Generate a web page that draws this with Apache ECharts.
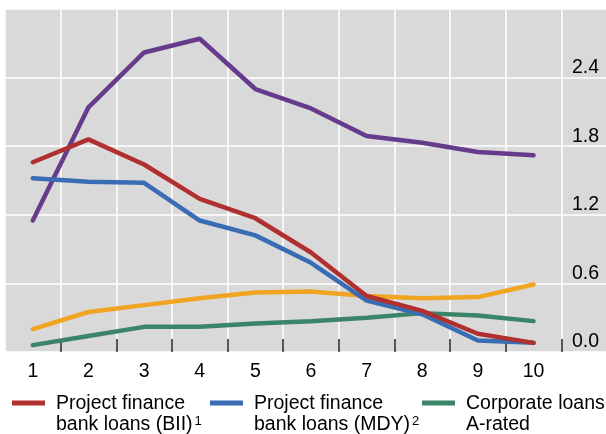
<!DOCTYPE html>
<html>
<head>
<meta charset="utf-8">
<script src="https://cdn.jsdelivr.net/npm/echarts@6/dist/echarts.min.js"></script>
<style>
  html, body { margin: 0; padding: 0; background: #fff; }
  #chart { width: 606px; height: 434px; }
</style>
</head>
<body>
<div id="chart"></div>
<script>
// categories (last one is empty, it holds the value labels)
const categories = ['1', '2', '3', '4', '5', '6', '7', '8', '9', '10', '']

const pfBii = [1.66, 1.86, 1.64, 1.34, 1.17, 0.87, 0.49, 0.36, 0.16, 0.08]
const pfMdy = [1.52, 1.49, 1.48, 1.15, 1.02, 0.78, 0.45, 0.33, 0.10, 0.08]
const corpA = [0.06, 0.14, 0.22, 0.22, 0.25, 0.27, 0.30, 0.34, 0.32, 0.27]
const purpleSeries = [1.15, 2.14, 2.62, 2.74, 2.30, 2.13, 1.89, 1.83, 1.75, 1.72]
const yellowSeries = [0.20, 0.35, 0.41, 0.47, 0.52, 0.53, 0.49, 0.47, 0.48, 0.59]

const yTicks = [0, 0.6, 1.2, 1.8, 2.4, 3.0]

const nameBii = 'Project finance bank loans (BII)'
const nameMdy = 'Project finance bank loans (MDY)'
const nameCorp = 'Corporate loans A-rated'

const legendLabels = {
  [nameBii]: '{t|Project finance}\n{t|bank loans (BII)}{s|1}',
  [nameMdy]: '{t|Project finance}\n{t|bank loans (MDY)}{s|2}',
  [nameCorp]: '{t|Corporate loans}\n{t|A-rated}'
}

const font = '"Liberation Sans", Arial, sans-serif'

const makeLegend = (name, left) => ({
  data: [name],
  left: left,
  top: 394,
  padding: 0,
  icon: 'rect',
  itemWidth: 33,
  itemHeight: 5,
  selectedMode: false,
  formatter: n => legendLabels[n],
  textStyle: {
    padding: [23, 0, 0, 6],
    rich: {
      t: { fontFamily: font, fontSize: 19.5, lineHeight: 21, color: '#000' },
      s: { fontFamily: font, fontSize: 13, lineHeight: 18, verticalAlign: 'top', color: '#000', padding: [0, 0, 0, 2] }
    }
  }
})

const makeLine = (name, data, color) => ({
  name: name,
  type: 'line',
  data: data,
  color: color,
  symbol: 'none',
  lineStyle: { width: 4.5, color: color, cap: 'round' },
  z: 3
})

const chart = echarts.init(document.getElementById('chart'))

const option = {
  animation: false,
  backgroundColor: '#fff',
  grid: {
    left: 5,
    top: 9,
    width: 612,
    height: 343,
    outerBoundsMode: 'none',
    containLabel: false,
    show: true,
    backgroundColor: '#d9d9d9',
    borderWidth: 0
  },
  legend: [
    makeLegend(nameBii, 12),
    makeLegend(nameMdy, 210),
    makeLegend(nameCorp, 422)
  ],
  xAxis: {
    type: 'category',
    data: categories,
    boundaryGap: true,
    axisLine: { show: false },
    axisTick: {
      show: true,
      inside: true,
      length: 13,
      interval: i => i > 0,
      lineStyle: { color: '#222', width: 1.5 }
    },
    axisLabel: {
      margin: 10,
      fontFamily: font,
      fontSize: 19.5,
      lineHeight: 20,
      color: '#000'
    },
    splitLine: { show: true, lineStyle: { color: '#fff', width: 1.5 } }
  },
  yAxis: {
    type: 'value',
    position: 'right',
    min: yTicks[0],
    max: yTicks[yTicks.length - 1],
    interval: 0.6,
    axisLine: { show: false },
    axisTick: { show: false },
    axisLabel: {
      inside: true,
      margin: 18,
      showMaxLabel: false,
      formatter: v => v.toFixed(1),
      fontFamily: font,
      fontSize: 19.5,
      lineHeight: 20,
      verticalAlign: 'bottom',
      padding: [0, 0, 0, 0],
      color: '#000'
    },
    splitLine: { show: true, lineStyle: { color: '#fff', width: 1.5 } }
  },
  series: [
    makeLine('Purple series', purpleSeries, '#663b8c'),
    makeLine('Yellow series', yellowSeries, '#f0a422'),
    makeLine(nameCorp, corpA, '#3c8468'),
    makeLine(nameMdy, pfMdy, '#386cb3'),
    makeLine(nameBii, pfBii, '#b0302f')
  ]
}

chart.setOption(option)
</script>
</body>
</html>
